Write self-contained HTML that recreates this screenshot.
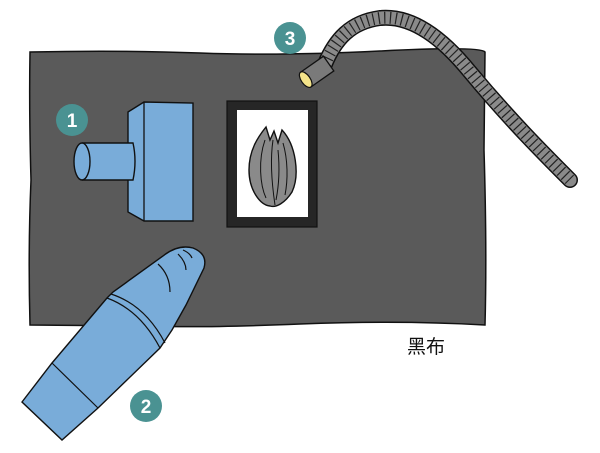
<!DOCTYPE html>
<html><head><meta charset="utf-8"><style>
html,body{margin:0;padding:0;background:#fff;}
svg{display:block;}
</style></head><body>
<svg width="600" height="453" viewBox="0 0 600 453" xmlns="http://www.w3.org/2000/svg">
<path d="M30,52 Q120,50 200,53 T380,51 T485,52 L484,150 Q487,250 485,325 Q400,320 300,324 T150,326 L30,325 Q28,250 31,180 Q29,110 30,52 Z" fill="#5a5a5a" stroke="#111" stroke-width="1.5"/>
<path d="M325,64 C335,40 350,22 380,18 C410,15 440,35 470,72 C510,120 545,155 570,180" fill="none" stroke="#111" stroke-width="16" stroke-linecap="round"/>
<path d="M325,64 C335,40 350,22 380,18 C410,15 440,35 470,72 C510,120 545,155 570,180" fill="none" stroke="#8a8a8a" stroke-width="13" stroke-linecap="round"/>
<path d="M325,64 C335,40 350,22 380,18 C410,15 440,35 470,72 C510,120 545,155 570,180" fill="none" stroke="#222" stroke-width="12" stroke-dasharray="1.2 4.5"/>
<g transform="translate(318,71) rotate(-35)">
<rect x="-15" y="-9" width="28" height="18" fill="#7a7a7a" stroke="#111" stroke-width="1.3"/>
<ellipse cx="-15" cy="0" rx="4.5" ry="9" fill="#f4e48a" stroke="#111" stroke-width="1.2"/>
</g>
<polygon points="128,112 144,102 193,103 193,221 144,221 128,212" fill="#79acd9" stroke="#111" stroke-width="1.4"/>
<line x1="144" y1="102" x2="144" y2="221" stroke="#111" stroke-width="1.3"/>
<path d="M82,143 L133,143 Q137,161 133,180 L82,180" fill="#79acd9" stroke="#111" stroke-width="1.4"/>
<ellipse cx="82" cy="161.5" rx="8" ry="18.5" fill="#79acd9" stroke="#111" stroke-width="1.4"/>
<rect x="227" y="101" width="90" height="126" fill="#262626" stroke="#111" stroke-width="1.2"/>
<rect x="237" y="110" width="71" height="107" fill="#fff"/>
<path d="M266,127 L270,140 L274,131 L278,143 L282,130 C296,145 300,175 292,192 C285,203 276,208 270,206 C260,205 249,190 249,170 C249,150 258,137 266,127 Z" fill="#8a8a8a" stroke="#111" stroke-width="1.4"/>
<path d="M273,140 C270,160 272,185 275,205 M265,140 C258,160 260,185 266,198 M283,143 C288,160 288,180 285,195 M278,150 C280,170 279,185 276,200" fill="none" stroke="#111" stroke-width="1"/>
<path d="M22,402 L52,363 L107,298 L113,292 L163,256 Q178,244 193,248 Q208,254 204,268 L186,305 L172,330 L160,348 L98,408 L62,440 Z" fill="#79acd9" stroke="#111" stroke-width="1.4"/>
<path d="M107,298 Q140,310 160,348 M111,294 Q145,305 165,343 M52,363 L98,408 M158,264 Q170,275 170,292 M178,254 Q186,262 186,270 M183,250 Q190,253 192,258" fill="none" stroke="#111" stroke-width="1.2"/>
<g font-family="Liberation Sans, sans-serif" font-weight="bold" font-size="19" fill="#fff" text-anchor="middle">
<circle cx="72" cy="120" r="16" fill="#4a9292"/><text x="72" y="127">1</text>
<circle cx="146" cy="406" r="16" fill="#4a9292"/><text x="146" y="413">2</text>
<circle cx="290" cy="38" r="16" fill="#4a9292"/><text x="290" y="45">3</text>
</g>
<text x="426" y="353" font-family="Liberation Sans, 'Noto Sans CJK JP', sans-serif" font-size="19" fill="#111" text-anchor="middle">黑布</text>
</svg>
</body></html>
